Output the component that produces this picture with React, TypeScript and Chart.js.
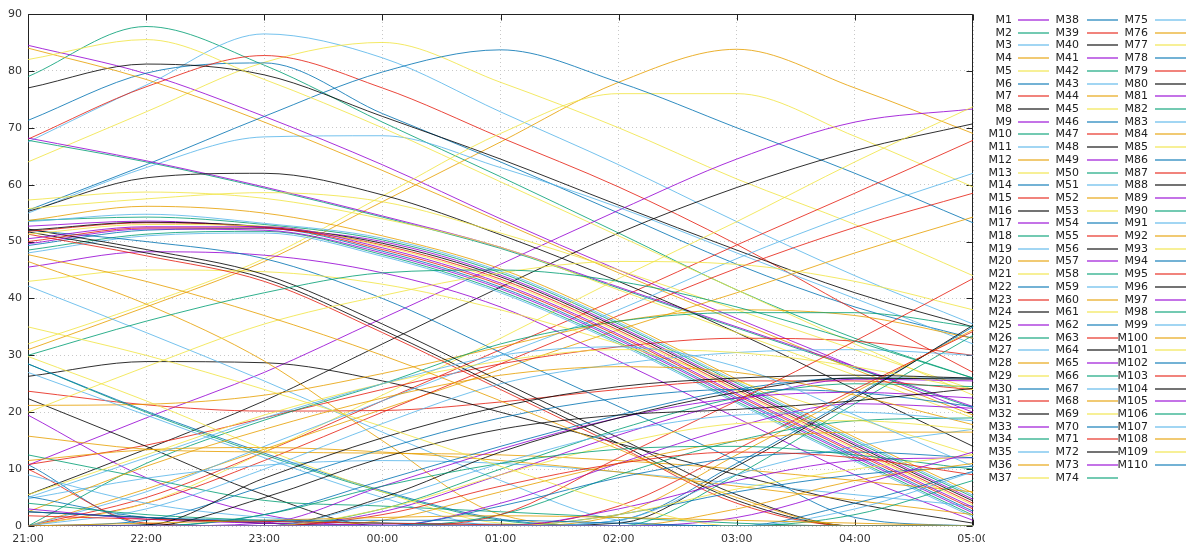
import React, { useEffect, useRef } from 'react';
import { Chart, registerables } from 'chart.js';

Chart.register(...registerables);

// Time axis categories (hourly samples)
const timeLabels = ['21:00', '22:00', '23:00', '00:00', '01:00', '02:00', '03:00', '04:00', '05:00'];
const yTickValues = [0, 10, 20, 30, 40, 50, 60, 70, 80, 90];

// gnuplot default line colour cycle
const palette = ['#9400d3', '#009e73', '#56b4e9', '#e69f00', '#f0e442', '#0072b2', '#e51e10', '#000000'];

// Elevation values, grouped by colour (series M1, M9, M17 ... are purple, etc.)
const purpleTracks: number[][] = [
  [84.5, 79.5, 72, 63.5, 54, 45, 36.5, 28, 20],
  [10.7, 19, 27, 36.5, 46, 55.5, 64.5, 71, 73.3],
  [68.2, 64.2, 59.6, 54.5, 49, 42, 35, 28, 21],
  [45.5, 48.2, 47.6, 44.5, 38.5, 29, 19, 9, 1],
  [19.5, 8.5, 2, 0, 0, 0, 0, 0, 0],
  [52.7, 53.6, 52.4, 50, 44.1, 35.1, 24.7, 14.5, 4.7],
  [49.6, 52.2, 52, 48, 41.7, 32.7, 22.3, 12.1, 2.3],
  [0, 0, 0, 2.5, 9, 16, 22, 25.8, 25.5],
  [0, 0, 0, 0, 4, 11, 17.5, 21.5, 20.7],
  [0, 0, 0.5, 7, 13.5, 19, 22.5, 23.5, 22.5],
  [0, 0, 0, 0, 0, 3, 8, 11.5, 12],
  [3, 1.2, 0.5, 0.2, 0, 0, 0, 0, 0],
  [50.5, 52.6, 52.6, 48.9, 42.7, 33.7, 23.3, 13.1, 3.3],
  [0, 0, 0, 0, 0, 0, 1.5, 7, 13],
];

const greenTracks: number[][] = [
  [79, 87.8, 81, 71, 61.4, 51.5, 41.5, 33, 26],
  [67.8, 64, 59.4, 54.3, 48.8, 41.8, 34.8, 27.8, 20.8],
  [53.7, 54.3, 53, 50.3, 44.5, 35.5, 25.1, 14.9, 5.1],
  [48.5, 51.3, 51.8, 47.7, 41.3, 32.3, 21.9, 11.7, 1.9],
  [28.5, 20, 12.5, 6, 1, 0, 0, 0, 0],
  [12.5, 8.4, 4.5, 3.5, 2.5, 1.5, 0.5, 0, 0],
  [0, 11, 18.6, 25, 32, 36, 37.5, 37.5, 35],
  [0, 0, 0, 3, 10, 17, 22.5, 25, 24.5],
  [0, 0, 0, 0, 0, 0, 9, 21.5, 33.5],
  [0, 0, 0, 0, 2, 9, 15, 18.5, 19],
  [0, 0, 0, 0, 0, 0, 0, 2, 8],
  [4, 2, 1, 0.5, 0, 0, 0, 0, 0],
  [0, 0, 2, 7, 11, 13.5, 14, 12.5, 10],
  [30, 36, 41, 44.5, 45, 43, 38.5, 32.5, 26],
];

const lightBlueTracks: number[][] = [
  [67.5, 77.5, 86.5, 82.3, 72.8, 63.5, 53.5, 44, 35.5],
  [55, 63, 68.4, 68.6, 63, 56, 48, 40, 32],
  [53.5, 54.8, 53.2, 50.6, 44.8, 35.8, 25.4, 15.2, 5.4],
  [48, 51, 51.5, 47.4, 41, 32, 21.6, 11.4, 1.6],
  [42.2, 34, 25.5, 16.5, 8, 1, 0, 0, 0],
  [0, 6, 14, 22, 30, 38, 47, 55, 62],
  [27, 19.5, 12, 5, 0, 0, 0, 0, 0],
  [4.8, 8.4, 10.7, 11.5, 11, 9.5, 7.5, 5.5, 3.5],
  [0, 3, 10, 18, 25, 28.5, 30.5, 31, 30],
  [0, 0, 0, 0, 0, 1, 9, 14, 17],
  [9, 4, 1.5, 0.5, 0, 0, 0, 0, 0],
  [0, 0, 0, 4.5, 11, 16.5, 19.5, 20, 18.5],
  [5, 12, 19, 25, 30, 31.5, 28, 19.5, 10.5],
  [0, 0, 0, 0, 0, 0, 0, 3, 9.5],
];

const orangeTracks: number[][] = [
  [31, 38.5, 46.5, 57, 67.5, 78, 83.8, 77, 69],
  [84, 78.5, 71, 62.5, 53.5, 44.5, 36, 27.5, 19.5],
  [0, 6.5, 13.5, 20.5, 27.5, 34.5, 41, 48, 54.3],
  [53.7, 56.2, 55, 51, 45.2, 36.2, 25.8, 15.6, 5.8],
  [46.5, 39, 29, 15, 2, 0, 0, 0, 0],
  [21.2, 21.4, 23, 26.8, 31.5, 36, 38, 37, 33],
  [15.8, 13.5, 13, 12.8, 12.5, 11.5, 10, 8, 6],
  [11.5, 13.4, 13.8, 13, 11.5, 9.5, 7, 4.5, 2],
  [0, 0, 0, 0, 0, 2, 12.5, 23.5, 34.5],
  [2.5, 10.5, 17, 22.5, 26.5, 28, 27, 23, 17.8],
  [0, 0, 0, 1, 6, 11, 15, 16.5, 16.5],
  [47.7, 43, 37, 30, 22, 13.5, 5, 0, 0],
  [0, 0, 0, 0, 0, 0, 3, 8, 11],
  [0, 0.5, 1, 1.5, 1.8, 1.5, 1, 0.5, 0],
];

const yellowTracks: number[][] = [
  [64, 72.8, 81.5, 85, 78, 70, 61, 53, 44],
  [32, 39, 47, 58, 69, 76, 76, 68.5, 59.6],
  [82, 85.5, 78.5, 70, 60.5, 51, 41.5, 32, 23],
  [0, 4, 13, 23, 33, 43.5, 53.5, 64, 73.7],
  [57.3, 58.7, 57.6, 54, 49, 41.5, 34, 26.5, 19],
  [55.8, 57.5, 58.6, 57, 51.5, 45, 38, 31, 24],
  [43, 45, 44.7, 42.5, 38, 32, 25.5, 19, 12.5],
  [29.8, 22, 13.5, 6, 0.5, 0, 0, 0, 0],
  [20, 28, 35.5, 40.5, 44.5, 46.5, 46, 43, 38],
  [5.5, 12.5, 19.5, 25, 29, 31, 30.5, 28, 24],
  [51.3, 53, 52.7, 49.2, 43.1, 34.1, 23.7, 13.5, 3.7],
  [0, 0, 0, 3, 9, 14.5, 18, 18.5, 17],
  [0, 0, 0, 0, 0, 2, 6.5, 10, 12.5],
  [35, 30, 24, 17.5, 10.5, 4, 0, 0, 0],
];

const blueTracks: number[][] = [
  [71.3, 79.6, 81.4, 72.5, 64, 55, 46, 38.5, 33],
  [55.5, 63.5, 72, 79.8, 83.7, 78, 70, 62, 53.3],
  [49.3, 52, 52.3, 48.3, 42, 33, 22.6, 12.4, 2.6],
  [10.8, 0.3, 0, 0, 0, 0, 0, 0, 0],
  [52, 50, 47, 40, 30.5, 21, 11.5, 1.5, 0],
  [28.5, 20.2, 12.8, 6.2, 1.2, 0, 0, 0, 0],
  [0, 0, 0, 0, 0, 1, 11, 22.8, 35],
  [0, 0, 2, 8, 14, 19.5, 24, 26, 26],
  [0, 0, 0, 0, 0, 2, 6, 9, 10.5],
  [5.2, 1.5, 0.8, 0.5, 0.3, 0, 0, 0, 0],
  [0, 1, 7, 13.5, 19, 22.5, 24, 23.5, 21],
  [0, 0, 0, 0, 3.5, 8.5, 12, 13, 12],
  [0, 0, 0, 0, 0, 0, 0, 4, 9.6],
  [2.5, 1.5, 1, 1, 1, 0.5, 0, 0, 0],
];

const redTracks: number[][] = [
  [68, 77.2, 82.7, 77, 68.3, 59.6, 49.5, 38, 27],
  [0, 5, 13, 22, 31, 40, 49.4, 58.5, 67.8],
  [0, 4, 11.5, 20, 28.5, 37, 45.3, 52.5, 58.5],
  [23.7, 21.3, 20.2, 20.3, 21.8, 24, 25.5, 25.5, 24],
  [10.8, 14.2, 19, 24, 28.5, 31.5, 33, 32.5, 30],
  [10, 0.5, 0, 0, 0, 0, 0, 0, 0],
  [51.3, 47.5, 43, 34, 24, 14, 4, 0, 0],
  [51.8, 53.3, 52.5, 49.4, 43.4, 34.4, 24, 13.8, 4],
  [50, 52.4, 52.4, 48.6, 42.4, 33.4, 23, 12.8, 3],
  [0, 0, 0, 0, 0, 3.5, 13.5, 24, 34.2],
  [0, 0, 0, 0, 2, 12, 22, 32.5, 43.5],
  [1.8, 1.2, 0.8, 0.5, 0.2, 0, 0, 0, 0],
  [0, 0, 0, 2, 7, 11, 13, 12, 9],
];

const blackTracks: number[][] = [
  [77, 81.2, 79.3, 72, 64.5, 56.4, 48.5, 41, 35],
  [5.5, 13.5, 22, 32, 42, 51.5, 59.5, 66, 70.7],
  [55.3, 61.2, 62, 58.2, 51.2, 43, 34, 24, 14],
  [26.3, 28.9, 28.7, 25.5, 20, 14.5, 9, 4, 0.5],
  [22.4, 14, 5.5, 0, 0, 0, 0, 0, 0],
  [51.7, 48, 43.5, 34.5, 24.5, 14.5, 4.5, 0, 0],
  [52.2, 48.6, 44.2, 35.5, 25.5, 15.5, 5.5, 0, 0],
  [52, 53.4, 52.6, 49.7, 43.8, 34.8, 24.4, 14.2, 4.4],
  [0, 0, 0, 0, 0, 0.5, 10.5, 22.5, 35.3],
  [0, 0, 0, 5, 13, 19, 23.5, 26, 25.8],
  [2.5, 1.5, 0.5, 0, 0, 0, 0, 0, 0],
  [0, 0, 5, 12, 17, 19.5, 20.5, 22, 24.2],
  [0, 0.2, 8.4, 15.5, 21, 24.5, 26, 26.5, 26],
];

const colorGroups = [purpleTracks, greenTracks, lightBlueTracks, orangeTracks, yellowTracks, blueTracks, redTracks, blackTracks];
const SERIES_COUNT = 110;
const seriesNames = Array.from({ length: SERIES_COUNT }, (_, i) => `M${i + 1}`);
const seriesValues = seriesNames.map((_, i) => colorGroups[i % 8][Math.floor(i / 8)]);

const FONT = "'DejaVu Sans', Verdana, sans-serif";

const framePlugin = {
  id: 'gnuFrame',
  beforeDatasetsDraw(chart: any) {
    const { ctx, chartArea: a, scales } = chart;
    const L = Math.round(a.left) + 0.5;
    const R = Math.round(a.right) - 0.5;
    const T = Math.round(a.top) + 0.5;
    const B = Math.round(a.bottom) - 0.5;
    ctx.save();
    ctx.strokeStyle = '#222';
    ctx.lineWidth = 1;
    ctx.beginPath();
    ctx.rect(L, T, R - L, B - T);
    const tk = 6;
    timeLabels.forEach((_, i) => {
      const x = Math.round(scales.x.getPixelForTick(i)) + 0.5;
      ctx.moveTo(x, B); ctx.lineTo(x, B - tk);
      ctx.moveTo(x, T); ctx.lineTo(x, T + tk);
    });
    yTickValues.forEach((v) => {
      const y = Math.round(scales.y.getPixelForValue(v)) + 0.5;
      ctx.moveTo(L, y); ctx.lineTo(L + tk, y);
      ctx.moveTo(R, y); ctx.lineTo(R - tk, y);
    });
    ctx.stroke();
    ctx.restore();
  },
};

export default function App() {
  const canvasRef = useRef<HTMLCanvasElement | null>(null);

  useEffect(() => {
    document.body.style.margin = '0';
    const canvas = canvasRef.current;
    if (!canvas) return;
    const chart = new Chart(canvas, {
      type: 'line',
      data: {
        labels: timeLabels,
        datasets: seriesValues.map((vals, i) => ({
          label: seriesNames[i],
          data: vals,
          borderColor: palette[i % 8] + 'd0',
          backgroundColor: palette[i % 8],
          borderWidth: 1,
          pointRadius: 0,
          fill: false,
          cubicInterpolationMode: 'monotone' as const,
          order: SERIES_COUNT - i,
        })),
      },
      options: {
        animation: false,
        responsive: false,
        maintainAspectRatio: false,
        layout: { padding: { top: 14, right: 12, left: 0, bottom: 0 } },
        plugins: { legend: { display: false }, tooltip: { enabled: false } },
        scales: {
          x: {
            type: 'category',
            offset: false,
            grid: { color: '#c8c8c8', lineWidth: 1, drawTicks: false },
            border: { display: false, dash: [1, 3] },
            ticks: { color: '#333', font: { family: FONT, size: 11 }, padding: 7, maxRotation: 0, autoSkip: false },
            afterFit: (s: any) => { s.height = 22; s.paddingLeft = 0; s.paddingRight = 0; },
          },
          y: {
            min: 0,
            max: 90,
            grid: { color: '#c8c8c8', lineWidth: 1, drawTicks: false },
            border: { display: false, dash: [1, 3] },
            ticks: { stepSize: 10, color: '#333', font: { family: FONT, size: 11 }, padding: 6 },
            afterFit: (s: any) => { s.width = 28; s.paddingTop = 0; s.paddingBottom = 0; },
          },
        },
      },
      plugins: [framePlugin],
    } as any);
    return () => chart.destroy();
  }, []);

  const rowH = 12.71;
  const textRight = [1012, 1079, 1148];
  const swatchLeft = [1018, 1087, 1155];

  return (
    <div style={{ position: 'relative', width: 1192, height: 548, background: '#fff', overflow: 'hidden' }}>
      <canvas ref={canvasRef} width={985} height={548} style={{ position: 'absolute', left: 0, top: 0 }} />
      {seriesNames.map((name, i) => {
        const col = Math.floor(i / 37);
        const row = i % 37;
        const cy = 20 + row * rowH;
        return (
          <React.Fragment key={name}>
            <div
              style={{
                position: 'absolute',
                left: textRight[col] - 60,
                width: 60,
                top: cy - 7,
                height: 14,
                lineHeight: '14px',
                textAlign: 'right',
                font: `11px ${FONT}`,
                color: '#222',
                whiteSpace: 'nowrap',
              }}
            >
              {name}
            </div>
            <div
              style={{
                position: 'absolute',
                left: swatchLeft[col],
                top: cy - 1,
                width: 31,
                height: 2,
                background: palette[i % 8],
                opacity: 0.55,
              }}
            />
          </React.Fragment>
        );
      })}
    </div>
  );
}
